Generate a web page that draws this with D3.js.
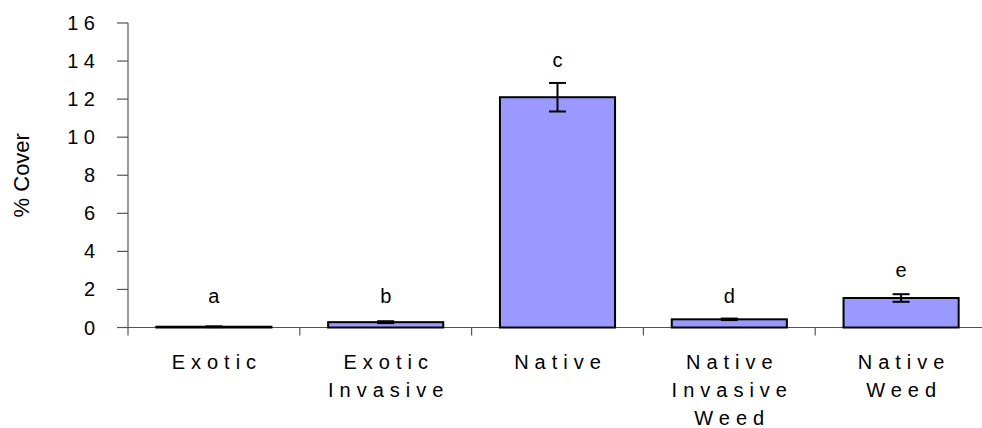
<!DOCTYPE html>
<html><head><meta charset="utf-8">
<script src="https://cdn.jsdelivr.net/npm/d3@7"></script>
<style>body{margin:0;background:#fff}svg{display:block}text{font-family:"Liberation Sans",Arial,sans-serif;fill:#000}</style>
</head><body><svg id="c" width="982" height="428"></svg>
<script>
const categories = [["Exotic"],["Exotic","Invasive"],["Native"],["Native","Invasive","Weed"],["Native","Weed"]];
const values = [0.04, 0.28, 12.1, 0.43, 1.55];
const errors = [0.02, 0.05, 0.75, 0.04, 0.2];
const letters = ["a","b","c","d","e"];
const letterPos = [1.29, 1.29, 13.67, 1.29, 2.65];
const yTicks = [0,2,4,6,8,10,12,14,16];

const svg = d3.select("#c");
const x0 = 128, x1 = 987, yTop = 23, yBot = 327.5;
const x = d3.scaleBand().domain(d3.range(5)).range([x0, x1]).paddingInner(0.33).paddingOuter(0.165);
const xb = d3.scaleBand().domain(d3.range(5)).range([x0, x1]);
const y = d3.scaleLinear().domain([0,16]).range([yBot, yTop]);

// y axis
svg.append("line").attr("x1",x0).attr("x2",x0).attr("y1",yTop).attr("y2",yBot+8).attr("stroke","#555").attr("stroke-width",1.2);
svg.selectAll(".yt").data(yTicks).enter().append("line")
  .attr("x1",x0-11).attr("x2",x0).attr("y1",d=>y(d)).attr("y2",d=>y(d)).attr("stroke","#555").attr("stroke-width",1.2);
svg.selectAll(".yl").data(yTicks).enter().append("text")
  .attr("x",95).attr("y",d=>y(d)+7).attr("text-anchor","end").attr("font-size",20)
  .text(d=>String(d).split("").join(" "));
svg.append("text").attr("transform",`translate(29,${(yTop+yBot)/2}) rotate(-90)`)
  .attr("text-anchor","middle").attr("font-size",22).text("% Cover");

// x axis
svg.append("line").attr("x1",x0).attr("x2",982).attr("y1",yBot).attr("y2",yBot).attr("stroke","#555").attr("stroke-width",1.2);
svg.selectAll(".xt").data(d3.range(1,5)).enter().append("line")
  .attr("x1",d=>xb(d)).attr("x2",d=>xb(d)).attr("y1",yBot).attr("y2",yBot+8).attr("stroke","#555").attr("stroke-width",1.2);

// bars
svg.selectAll(".bar").data(values).enter().append("rect")
  .attr("x",(d,i)=>x(i)).attr("width",x.bandwidth())
  .attr("y",d=>y(d)).attr("height",d=>yBot-y(d))
  .attr("fill","#9999FF").attr("stroke","#000").attr("stroke-width",2);

// error bars
const g = svg.selectAll(".err").data(values).enter().append("g");
g.append("line").attr("x1",(d,i)=>xb(i)+xb.bandwidth()/2).attr("x2",(d,i)=>xb(i)+xb.bandwidth()/2)
  .attr("y1",(d,i)=>y(d+errors[i])).attr("y2",(d,i)=>y(d-errors[i])).attr("stroke","#000").attr("stroke-width",2);
[1,-1].forEach(s=>{
  g.append("line").attr("x1",(d,i)=>xb(i)+xb.bandwidth()/2-8.5).attr("x2",(d,i)=>xb(i)+xb.bandwidth()/2+8.5)
   .attr("y1",(d,i)=>y(d+s*errors[i])).attr("y2",(d,i)=>y(d+s*errors[i])).attr("stroke","#000").attr("stroke-width",2);
});

// letters
svg.selectAll(".lt").data(letters).enter().append("text")
  .attr("x",(d,i)=>xb(i)+xb.bandwidth()/2).attr("y",(d,i)=>y(letterPos[i]))
  .attr("text-anchor","middle").attr("font-size",20).text(d=>d);

// category labels
categories.forEach((lines,i)=>{
  const t = svg.append("text").attr("text-anchor","middle").attr("font-size",20).attr("letter-spacing","6px");
  lines.forEach((ln,j)=>{
    t.append("tspan").attr("x",xb(i)+xb.bandwidth()/2+3).attr("y",369+j*28).text(ln);
  });
});
</script></body></html>
